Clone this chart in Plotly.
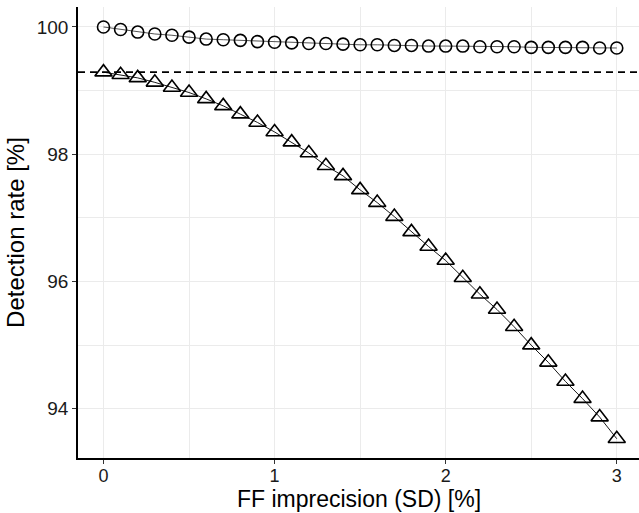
import plotly.graph_objects as go

sd = [round(i * 0.1, 1) for i in range(31)]
circle_rate = [100.00, 99.96, 99.92, 99.89, 99.87, 99.84, 99.81, 99.80, 99.79, 99.77,
               99.76, 99.75, 99.74, 99.74, 99.73, 99.72, 99.72, 99.71, 99.71, 99.70,
               99.70, 99.70, 99.69, 99.69, 99.69, 99.68, 99.68, 99.68, 99.68, 99.67,
               99.67]
triangle_rate = [99.29, 99.25, 99.20, 99.13, 99.05, 98.97, 98.87, 98.76, 98.63, 98.50,
                 98.35, 98.19, 98.02, 97.82, 97.66, 97.44, 97.24, 97.02, 96.78, 96.55,
                 96.33, 96.06, 95.80, 95.56, 95.29, 95.00, 94.73, 94.43, 94.16, 93.87,
                 93.53]
reference_rate = 99.29
x_title = "FF imprecision (SD) [%]"
y_title = "Detection rate [%]"

FONT = "Liberation Sans, Arial, Helvetica, sans-serif"

fig = go.Figure()
fig.add_hline(y=reference_rate, line=dict(color="black", width=1.6, dash="7px,5px"))
fig.add_trace(go.Scatter(
    x=sd, y=circle_rate, mode="lines+markers",
    line=dict(color="#555555", width=1),
    marker=dict(symbol="circle-open", size=12, color="black", line=dict(width=1.6)),
    showlegend=False))
fig.add_trace(go.Scatter(
    x=sd, y=triangle_rate, mode="lines+markers",
    line=dict(color="black", width=0.9),
    marker=dict(symbol="triangle-up-open", size=15, color="black", line=dict(width=1.6)),
    showlegend=False))

fig.add_annotation(text=x_title, xref="paper", yref="paper", x=0.5, y=0,
                   xanchor="center", yanchor="middle", yshift=-41, showarrow=False,
                   font=dict(size=23, family=FONT, color="black"))

grid = "#EBEBEB"
fig.update_layout(
    width=639, height=513,
    margin=dict(l=78, r=0, t=7, b=55),
    paper_bgcolor="white", plot_bgcolor="white",
    font=dict(family=FONT, color="black"),
    xaxis=dict(
        range=[-0.149, 3.130], tickmode="linear", tick0=0, dtick=1,
        showgrid=True, gridcolor=grid, gridwidth=1,
        minor=dict(dtick=0.5, showgrid=True, gridcolor=grid, gridwidth=0.7),
        showline=True, linecolor="black", linewidth=1.5,
        ticks="outside", ticklen=4, tickcolor="#333333", tickwidth=1,
        ticklabelstandoff=-3,
        tickfont=dict(size=18, color="#1a1a1a"),
        zeroline=False,
    ),
    yaxis=dict(
        range=[93.227, 100.314], tickmode="linear", tick0=94, dtick=2,
        showgrid=True, gridcolor=grid, gridwidth=1,
        minor=dict(dtick=1, showgrid=True, gridcolor=grid, gridwidth=0.7),
        showline=True, linecolor="black", linewidth=1.5,
        ticks="outside", ticklen=4, tickcolor="#333333", tickwidth=1,
        tickfont=dict(size=19, color="#1a1a1a"),
        title=dict(text=y_title, font=dict(size=24), standoff=5),
        zeroline=False,
    ),
)

fig.write_html("out.html", config={"displayModeBar": False},
               post_script="document.body.style.margin='0';document.body.style.overflow='hidden';")
